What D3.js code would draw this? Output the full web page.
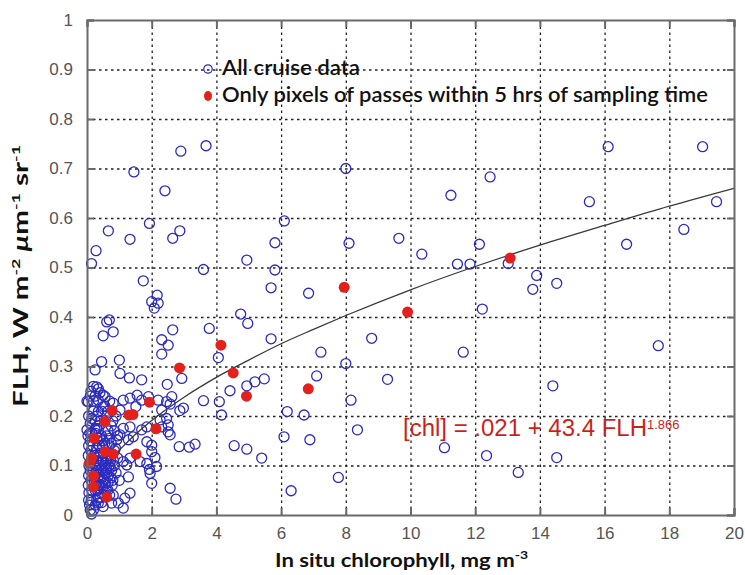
<!DOCTYPE html>
<html>
<head>
<meta charset="utf-8">
<script src="https://cdn.jsdelivr.net/npm/d3@7/dist/d3.min.js"></script>
<style>
  html, body { margin: 0; padding: 0; background: #ffffff; }
  svg { display: block; }
</style>
</head>
<body>
<svg id="chart" width="745" height="575"></svg>
<script>
// ---------------- DATA ----------------
const xTicks = [0, 2, 4, 6, 8, 10, 12, 14, 16, 18, 20];
const yTicks = [0, 0.1, 0.2, 0.3, 0.4, 0.5, 0.6, 0.7, 0.8, 0.9, 1];
const yTickLabels = ["0", "0.1", "0.2", "0.3", "0.4", "0.5", "0.6", "0.7", "0.8", "0.9", "1"];
const xTickLabels = ["0", "2", "4", "6", "8", "10", "12", "14", "16", "18", "20"];

// "All cruise data" (in situ chl, FLH)
const allChl = [
  1.45, 2.9, 3.68, 2.41, 0.66, 1.93, 1.33, 2.65, 2.87, 0.28, 0.14, 1.74, 3.6, 4.94, 6.1, 5.81, 5.81, 5.69,
  2.17, 2.0, 2.2, 2.08, 0.69, 0.61, 0.81, 0.5, 2.65, 3.78, 4.75, 4.97, 2.31, 2.51, 2.31, 5.69, 4.06,
  0.45, 0.25, 1.0, 1.02, 1.31, 1.69, 2.93, 2.48, 4.42, 4.94, 5.19, 5.48, 0.3, 0.4, 0.5, 1.55,
  8.0, 12.46, 11.25, 8.1, 9.64, 10.35, 12.13, 11.45, 11.84, 6.85, 12.22, 8.8, 7.23, 8.0, 11.63, 9.29, 7.1, 8.16,
  16.11, 19.03, 15.53, 19.46, 18.45, 16.68, 13.02, 13.9, 13.78, 14.52, 17.66, 14.4,
  11.05, 12.35, 13.33, 14.52,
  3.6, 4.09, 4.16, 6.19, 6.71, 8.36, 6.09, 6.89, 2.85, 3.16, 3.34, 4.55, 4.94, 5.4, 7.77, 6.31, 2.57, 2.75, 2.98, 2.87,
  0.56, 0.35, 0.04, 1.12, 1.33, 1.69, 1.51, 1.9, 2.2, 2.46, 2.62, 2.57, 2.31, 0.5, 0.35, 0.81, 1.02,
  2.46, 2.51, 2.51, 2.57, 2.26, 2.31, 0.0, 0.09, 0.25, 1.12, 1.33, 1.69, 1.85, 1.43, 1.28, 1.02, 0.92,
  1.85, 2.0, 2.0, 2.1, 1.85, 2.15, 1.64, 1.33, 1.12, 1.23, 1.95, 2.0, 1.33, 1.17, 0.97, 1.12, 0.81, 0.76,
  0.5, 0.35, 0.2, 0.14, 1.93, 1.28,
  0.03, 0.05, 0.04, 0.06, 0.05, 0.04, 0.06, 0.05, 0.08, 0.1, 0.12, 0.1, 0.12, 0.15, 0.13, 0.1, 0.15, 0.18,
  0.22, 0.25, 0.28, 0.3, 0.32, 0.35, 0.26, 0.3, 0.35, 0.38, 0.4, 0.42, 0.45, 0.42, 0.38, 0.33, 0.3, 0.27,
  0.35, 0.3, 0.45, 0.48, 0.5, 0.52, 0.48, 0.55, 0.25, 0.4, 0.45, 0.2, 0.15,
  0.6, 0.62, 0.65, 0.68, 0.7, 0.72, 0.75, 0.78, 0.85, 0.88, 0.9, 0.65, 0.75, 0.85, 0.95, 0.6, 0.7, 0.9,
  0.95, 1.0, 0.6, 0.7, 0.55, 0.0, 0.05, 0.1, 0.12, 0.2, 0.25,
  0.2, 0.22, 0.25, 0.28, 0.3, 0.33, 0.36, 0.38, 0.4, 0.42, 0.45, 0.47, 0.5, 0.52, 0.55, 0.57, 0.6, 0.63,
  0.66, 0.68, 0.7, 0.73, 0.76, 0.8, 0.82, 0.85, 0.4, 0.45, 0.55, 0.3, 0.65, 0.5, 0.6, 0.4, 0.3, 0.75,
  0.8, 0.55, 0.65, 0.2, 0.1, 0.35
];
const allFlh = [
  0.693, 0.735, 0.746, 0.655, 0.574, 0.589, 0.557, 0.559, 0.574, 0.534, 0.508, 0.473, 0.496, 0.515, 0.594, 0.55, 0.495, 0.459,
  0.444, 0.431, 0.428, 0.418, 0.394, 0.39, 0.37, 0.362, 0.374, 0.377, 0.406, 0.387, 0.354, 0.343, 0.325, 0.356, 0.318,
  0.31, 0.293, 0.313, 0.286, 0.277, 0.273, 0.276, 0.264, 0.251, 0.261, 0.269, 0.275, 0.259, 0.247, 0.242, 0.242,
  0.70, 0.683, 0.646, 0.549, 0.559, 0.527, 0.547, 0.507, 0.507, 0.448, 0.416, 0.357, 0.329, 0.306, 0.329, 0.274, 0.281, 0.232,
  0.744, 0.744, 0.633, 0.633, 0.577, 0.547, 0.508, 0.484, 0.456, 0.468, 0.342, 0.261,
  0.136, 0.12, 0.086, 0.116,
  0.231, 0.229, 0.202, 0.209, 0.202, 0.172, 0.158, 0.152, 0.138, 0.137, 0.143, 0.14, 0.133, 0.115, 0.076, 0.049, 0.054, 0.032, 0.216, 0.211,
  0.239, 0.232, 0.229, 0.232, 0.236, 0.232, 0.219, 0.239, 0.232, 0.229, 0.239, 0.224, 0.212, 0.219, 0.209, 0.226, 0.212,
  0.195, 0.182, 0.168, 0.162, 0.192, 0.178, 0.172, 0.165, 0.173, 0.175, 0.178, 0.172, 0.178, 0.158, 0.152, 0.162, 0.152,
  0.148, 0.141, 0.128, 0.116, 0.104, 0.098, 0.108, 0.115, 0.108, 0.101, 0.084, 0.064, 0.044, 0.034, 0.024, 0.014, 0.04, 0.024,
  0.017, 0.024, 0.01, 0.002, 0.092, 0.077,
  0.16, 0.14, 0.12, 0.10, 0.08, 0.06, 0.045, 0.03, 0.02, 0.15, 0.13, 0.09, 0.07, 0.05, 0.03, 0.01, 0.165, 0.14,
  0.12, 0.10, 0.085, 0.065, 0.05, 0.035, 0.02, 0.11, 0.095, 0.08, 0.06, 0.045, 0.11, 0.125, 0.14, 0.15, 0.135, 0.165,
  0.18, 0.2, 0.16, 0.14, 0.09, 0.07, 0.055, 0.1, 0.19, 0.19, 0.21, 0.21, 0.195,
  0.11, 0.085, 0.065, 0.14, 0.155, 0.095, 0.075, 0.06, 0.1, 0.135, 0.085, 0.17, 0.18, 0.17, 0.16, 0.2, 0.23, 0.2,
  0.115, 0.07, 0.05, 0.04, 0.145, 0.23, 0.2, 0.185, 0.25, 0.26, 0.24,
  0.09, 0.07, 0.05, 0.11, 0.09, 0.075, 0.06, 0.1, 0.12, 0.09, 0.075, 0.06, 0.11, 0.125, 0.085, 0.065, 0.095, 0.115,
  0.08, 0.1, 0.12, 0.11, 0.09, 0.07, 0.11, 0.13, 0.035, 0.025, 0.04, 0.03, 0.05, 0.15, 0.16, 0.155, 0.175, 0.145,
  0.19, 0.22, 0.21, 0.23, 0.24, 0.255
];

// "Only pixels of passes within 5 hrs of sampling time"
const passChl = [0.07, 0.14, 0.2, 0.2, 0.22, 0.56, 0.56, 0.61, 0.78, 0.81, 1.3, 1.42, 1.52, 1.93, 2.13, 2.86, 4.14, 4.52, 4.93, 6.84, 7.95, 9.91, 13.08];
const passFlh = [0.105, 0.115, 0.079, 0.057, 0.155, 0.128, 0.189, 0.036, 0.211, 0.123, 0.202, 0.203, 0.123, 0.228, 0.174, 0.297, 0.343, 0.287, 0.24, 0.255, 0.46, 0.41, 0.519];

// Fitted curve  [chl] = .021 + 43.4 FLH^1.866
const fitChl = [0.7, 1, 1.5, 2, 3, 4, 5, 6, 7, 8, 10, 12, 14, 16, 18, 20];
const fitFlh = [0.110, 0.131, 0.163, 0.191, 0.238, 0.278, 0.313, 0.346, 0.375, 0.403, 0.455, 0.502, 0.545, 0.585, 0.624, 0.660];

// ---------------- CHART ----------------
const svg = d3.select("#chart");
const L = 87, R = 734, T = 20, B = 515;
const x = d3.scaleLinear().domain([0, 20]).range([L, R]);
const y = d3.scaleLinear().domain([0, 1]).range([B, T]);

// Grid (dotted)
const grid = svg.append("g");
grid.append("g")
  .attr("transform", `translate(0,${B})`)
  .call(d3.axisBottom(x).tickValues(xTicks.slice(1, -1)).tickSize(-(B - T)).tickFormat(""))
  .call(g => g.select(".domain").remove())
  .call(g => g.selectAll("line").attr("stroke", "#222").attr("stroke-dasharray", "2.5,3.5").attr("stroke-width", 1.3));
grid.append("g")
  .attr("transform", `translate(${L},0)`)
  .call(d3.axisLeft(y).tickValues(yTicks.slice(1, -1)).tickSize(-(R - L)).tickFormat(""))
  .call(g => g.select(".domain").remove())
  .call(g => g.selectAll("line").attr("stroke", "#222").attr("stroke-dasharray", "2.5,3.5").attr("stroke-width", 1.3));

// Data: all cruise data
svg.append("g").selectAll("circle")
  .data(allChl.map((c, i) => [c, allFlh[i]]))
  .join("circle")
  .attr("cx", d => x(d[0]))
  .attr("cy", d => y(d[1]))
  .attr("r", 5)
  .attr("fill", "none")
  .attr("stroke", "#2b2bbf")
  .attr("stroke-width", 1.3);

// Fitted curve
svg.append("path")
  .datum(fitChl.map((c, i) => [c, fitFlh[i]]))
  .attr("fill", "none")
  .attr("stroke", "#3a3a3a")
  .attr("stroke-width", 1.3)
  .attr("d", d3.line().x(d => x(d[0])).y(d => y(d[1])).curve(d3.curveMonotoneX));

// Data: passes within 5 hrs
svg.append("g").selectAll("circle")
  .data(passChl.map((c, i) => [c, passFlh[i]]))
  .join("circle")
  .attr("cx", d => x(d[0]))
  .attr("cy", d => y(d[1]))
  .attr("r", 5.5)
  .attr("fill", "#e3201b");

// Frame axes with inward ticks
const frameColor = "#6a6a6a";
const axB = svg.append("g").attr("transform", `translate(0,${B})`)
  .call(d3.axisBottom(x).tickValues(xTicks).tickSize(-7).tickPadding(12)
    .tickFormat((d, i) => xTickLabels[i]));
const axL = svg.append("g").attr("transform", `translate(${L},0)`)
  .call(d3.axisLeft(y).tickValues(yTicks).tickSize(-7).tickPadding(14)
    .tickFormat((d, i) => yTickLabels[i]));
const axT = svg.append("g").attr("transform", `translate(0,${T})`)
  .call(d3.axisTop(x).tickValues(xTicks).tickSize(-7).tickFormat(""));
const axR = svg.append("g").attr("transform", `translate(${R},0)`)
  .call(d3.axisRight(y).tickValues(yTicks).tickSize(-7).tickFormat(""));
[axB, axL, axT, axR].forEach(a => {
  a.select(".domain").attr("stroke", frameColor).attr("stroke-width", 2);
  a.selectAll(".tick line").attr("stroke", frameColor).attr("stroke-width", 2);
  a.selectAll("text")
    .attr("fill", "#555")
    .style("font-family", "'Liberation Sans', Arial, sans-serif")
    .style("font-size", "17px");
});

// Legend
const leg = svg.append("g");
leg.append("circle").attr("cx", 208).attr("cy", 69).attr("r", 4.2)
  .attr("fill", "none").attr("stroke", "#2b2bbf").attr("stroke-width", 1.2);
leg.append("ellipse").attr("cx", 208).attr("cy", 96).attr("rx", 4).attr("ry", 5)
  .attr("fill", "#e3201b");
leg.append("text").attr("x", 222).attr("y", 75)
  .attr("textLength", 138).attr("lengthAdjust", "spacingAndGlyphs")
  .style("font-family", "Lato, 'Open Sans', sans-serif").style("font-size", "21px").style("font-weight", 600)
  .attr("fill", "#111").text("All cruise data");
leg.append("text").attr("x", 222).attr("y", 102)
  .attr("textLength", 486).attr("lengthAdjust", "spacingAndGlyphs")
  .style("font-family", "Lato, 'Open Sans', sans-serif").style("font-size", "21px").style("font-weight", 600)
  .attr("fill", "#111").text("Only pixels of passes within 5 hrs of sampling time");

// Equation
const eq = svg.append("text").attr("x", 403).attr("y", 436)
  .style("font-family", "'Liberation Sans', Arial, sans-serif").style("font-size", "23px")
  .attr("fill", "#cc1f1a");
eq.append("tspan").attr("textLength", 244).attr("lengthAdjust", "spacingAndGlyphs").text("[chl] = .021 + 43.4 FLH");
eq.append("tspan").attr("dy", -7).style("font-size", "13px").text("1.866");

// X axis label
const xl = svg.append("text").attr("x", 275).attr("y", 567)
  .attr("textLength", 253).attr("lengthAdjust", "spacingAndGlyphs")
  .style("font-family", "Lato, 'Open Sans', sans-serif").style("font-size", "19px").style("font-weight", 700)
  .attr("fill", "#111");
xl.append("tspan").text("In situ chlorophyll, mg m");
xl.append("tspan").attr("dy", -8).style("font-size", "12px").text("-3");

// Y axis label
const yl = svg.append("text").attr("transform", "translate(28,407) rotate(-90)")
  .attr("textLength", 262).attr("lengthAdjust", "spacingAndGlyphs")
  .style("font-family", "Lato, 'Open Sans', sans-serif").style("font-size", "20px").style("font-weight", 700)
  .attr("fill", "#111");
yl.append("tspan").text("FLH, W m");
yl.append("tspan").attr("dy", -8).style("font-size", "12px").text("-2");
yl.append("tspan").attr("dy", 8).text(" ");
yl.append("tspan").style("font-style", "italic").text("μ");
yl.append("tspan").text("m");
yl.append("tspan").attr("dy", -8).style("font-size", "12px").text("-1");
yl.append("tspan").attr("dy", 8).text(" sr");
yl.append("tspan").attr("dy", -8).style("font-size", "12px").text("-1");
</script>
</body>
</html>
